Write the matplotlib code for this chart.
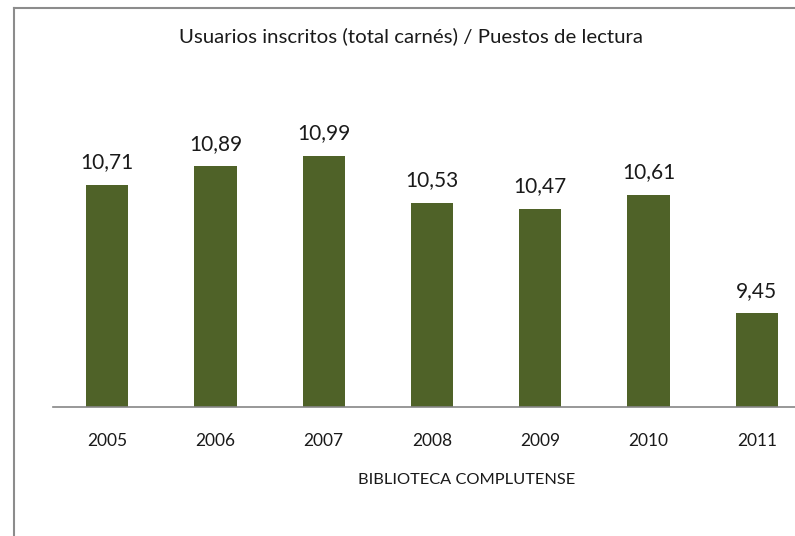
import matplotlib.pyplot as plt
from matplotlib.lines import Line2D

plt.rcParams["font.family"] = ["Lato", "DejaVu Sans"]

years = ["2005", "2006", "2007", "2008", "2009", "2010", "2011"]
ratios = [10.71, 10.89, 10.99, 10.53, 10.47, 10.61, 9.45]

BAR_COLOR = "#4F6228"
W, H = 795, 536

fig = plt.figure(figsize=(W / 100, H / 100), dpi=100)
fig.patch.set_facecolor("white")

# axes placed in pixels: x from 53 to 811 (cut by the image edge), baseline at 407
left, right, bottom, top = 53, 811, 407, 104
ax = fig.add_axes([left / W, 1 - bottom / H, (right - left) / W, (bottom - top) / H])

x = list(range(len(years)))
ax.bar(x, ratios, width=0.39, color=BAR_COLOR, zorder=2)
ax.set_xlim(-0.5, len(years) - 0.5)
ax.set_ylim(8.53, 11.5)

for xi, v in zip(x, ratios):
    ax.annotate(f"{v:.2f}".replace(".", ","), (xi, v), xytext=(0, 9),
                textcoords="offset points", ha="center", va="bottom",
                fontsize=15, color="#1a1a1a")

ax.set_xticks(x, years)
ax.tick_params(axis="x", length=0, pad=19, labelsize=12.5, colors="#1a1a1a")
ax.set_yticks([])
for s in ["top", "right", "left"]:
    ax.spines[s].set_visible(False)
ax.spines["bottom"].set_color("#868686")
ax.spines["bottom"].set_linewidth(1.2)

fig.text(411 / W, 1 - 36 / H, "Usuarios inscritos (total carnés) / Puestos de lectura",
         ha="center", va="center", fontsize=14.7, color="#1a1a1a")
fig.text(467 / W, 1 - 480 / H, "BIBLIOTECA COMPLUTENSE",
         ha="center", va="center", fontsize=11.8, color="#1a1a1a")

# chart frame (only the left and top edges are inside the picture)
fx, fy = 13.5 / W, 1 - 7.5 / H
fig.add_artist(Line2D([fx, fx], [0, fy], color="#8c8c8c", lw=1.5))
fig.add_artist(Line2D([fx, 1], [fy, fy], color="#8c8c8c", lw=1.5))

fig.savefig("out.png", dpi=100)
